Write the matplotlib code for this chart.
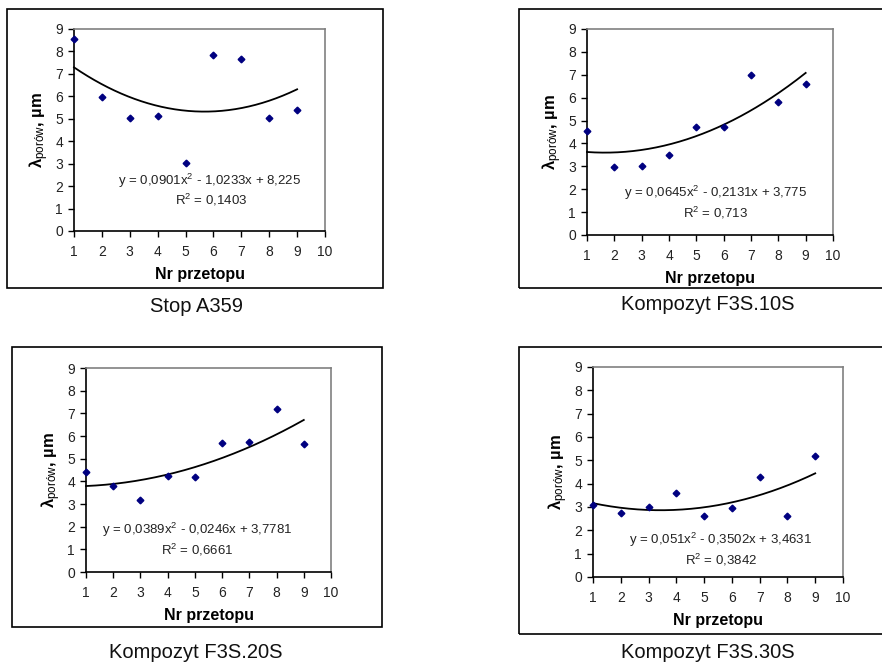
import numpy as np
import matplotlib
matplotlib.use("Agg")
import matplotlib.pyplot as plt
from matplotlib.patches import Rectangle

plt.rcParams['font.family'] = ['Liberation Sans', 'DejaVu Sans']
plt.rcParams['mathtext.fontset'] = 'custom'
plt.rcParams['mathtext.rm'] = 'Liberation Sans'
plt.rcParams['mathtext.it'] = 'Liberation Sans:italic'
plt.rcParams['mathtext.bf'] = 'Liberation Sans:bold'

# Melt number (Nr przetopu)
melt_no = [1, 2, 3, 4, 5, 6, 7, 8, 9]

# Pore spacing lambda, um
lam_a359 = [8.56, 5.96, 5.05, 5.13, 3.05, 7.85, 7.65, 5.05, 5.39]
lam_f3s10 = [4.54, 2.96, 3.03, 3.48, 4.70, 4.73, 7.00, 5.81, 6.60]
lam_f3s20 = [4.40, 3.81, 3.17, 4.22, 4.18, 5.69, 5.74, 7.20, 5.65]
lam_f3s30 = [3.10, 2.74, 3.01, 3.61, 2.60, 2.95, 4.27, 2.60, 5.18]

# Quadratic trend coefficients (a, b, c) and R^2
coef_a359 = (0.0901, -1.0233, 8.225)
coef_f3s10 = (0.0645, -0.2131, 3.775)
coef_f3s20 = (0.0389, -0.0246, 3.7781)
coef_f3s30 = (0.051, -0.3502, 3.4631)

eq_a359 = ["y = 0,0901x$^2$ - 1,0233x + 8,225", "R$^2$ = 0,1403"]
eq_f3s10 = ["y = 0,0645x$^2$ - 0,2131x + 3,775", "R$^2$ = 0,713"]
eq_f3s20 = ["y = 0,0389x$^2$ - 0,0246x + 3,7781", "R$^2$ = 0,6661"]
eq_f3s30 = ["y = 0,051x$^2$ - 0,3502x + 3,4631", "R$^2$ = 0,3842"]

captions = ["Stop A359", "Kompozyt F3S.10S", "Kompozyt F3S.20S", "Kompozyt F3S.30S"]

x_ticks = list(range(1, 11))
y_ticks = list(range(0, 10))

W, H = 882, 662
fig = plt.figure(figsize=(W / 100, H / 100), dpi=100)


def frac_rect(l, r, t, b):
    return [l / W, 1 - b / H, (r - l) / W, (b - t) / H]


panels = [
    dict(ax=(74, 325, 29, 231), box=(7, 383, 9, 288), cap=(196, 306),
         y=lam_a359, coef=coef_a359, eq=eq_a359, eqpos=((0.54, 0.25), (0.546, 0.153))),
    dict(ax=(587, 833, 29, 235), box=(519, 890, 9, 288), cap=(708, 305),
         y=lam_f3s10, coef=coef_f3s10, eq=eq_f3s10, eqpos=((0.524, 0.204), (0.524, 0.107))),
    dict(ax=(86, 331, 368, 572), box=(12, 382, 347, 627), cap=(196, 652),
         y=lam_f3s20, coef=coef_f3s20, eq=eq_f3s20, eqpos=((0.453, 0.206), (0.453, 0.108))),
    dict(ax=(593, 843, 367, 577), box=(519, 890, 347, 634), cap=(708, 652),
         y=lam_f3s30, coef=coef_f3s30, eq=eq_f3s30, eqpos=((0.512, 0.176), (0.514, 0.081))),
]

for p, cap in zip(panels, captions):
    bl, br, bt, bb = p['box']
    fig.patches.append(Rectangle((bl / W, 1 - bb / H), (br - bl) / W, (bb - bt) / H,
                                 transform=fig.transFigure, fill=False,
                                 edgecolor='black', linewidth=1.2))
    fig.text(p['cap'][0] / W, 1 - p['cap'][1] / H, cap, ha='center', va='center',
             fontsize=14.5, color='#111111')

    ax = fig.add_axes(frac_rect(*p['ax']))
    ax.set_xlim(1, 10)
    ax.set_ylim(0, 9)
    ax.set_xticks(x_ticks)
    ax.set_yticks(y_ticks)
    ax.tick_params(axis='both', direction='out', length=4, width=1, labelsize=10,
                   colors='black', labelcolor='#222222')
    ax.tick_params(axis='x', pad=6)
    ax.tick_params(axis='y', pad=4)
    for s in ('left', 'bottom'):
        ax.spines[s].set_color('black')
        ax.spines[s].set_linewidth(1.2)
    for s in ('top', 'right'):
        ax.spines[s].set_color('#808080')
        ax.spines[s].set_linewidth(1.2)

    a, b, c = p['coef']
    xs = np.linspace(1, 9, 200)
    ax.plot(xs, a * xs ** 2 + b * xs + c, color='black', linewidth=1.3, clip_on=False)
    ax.plot(melt_no, p['y'], linestyle='none', marker='D', markersize=3.4,
            color='#000080', clip_on=False, zorder=5)

    (ex, ey), (rx, ry) = p['eqpos']
    ax.text(ex, ey, p['eq'][0], transform=ax.transAxes, ha='center', va='center',
            fontsize=9.5, color='#222222')
    ax.text(rx, ry, p['eq'][1], transform=ax.transAxes, ha='center', va='center',
            fontsize=9.5, color='#222222')

    ax.set_xlabel('Nr przetopu', fontsize=11.5, fontweight='bold', labelpad=6)
    ax.set_ylabel(r'$\mathbf{\lambda}_{\mathrm{porów}}$, µm', fontsize=12,
                  fontweight='bold', labelpad=3)

fig.savefig('out.png', dpi=100)
